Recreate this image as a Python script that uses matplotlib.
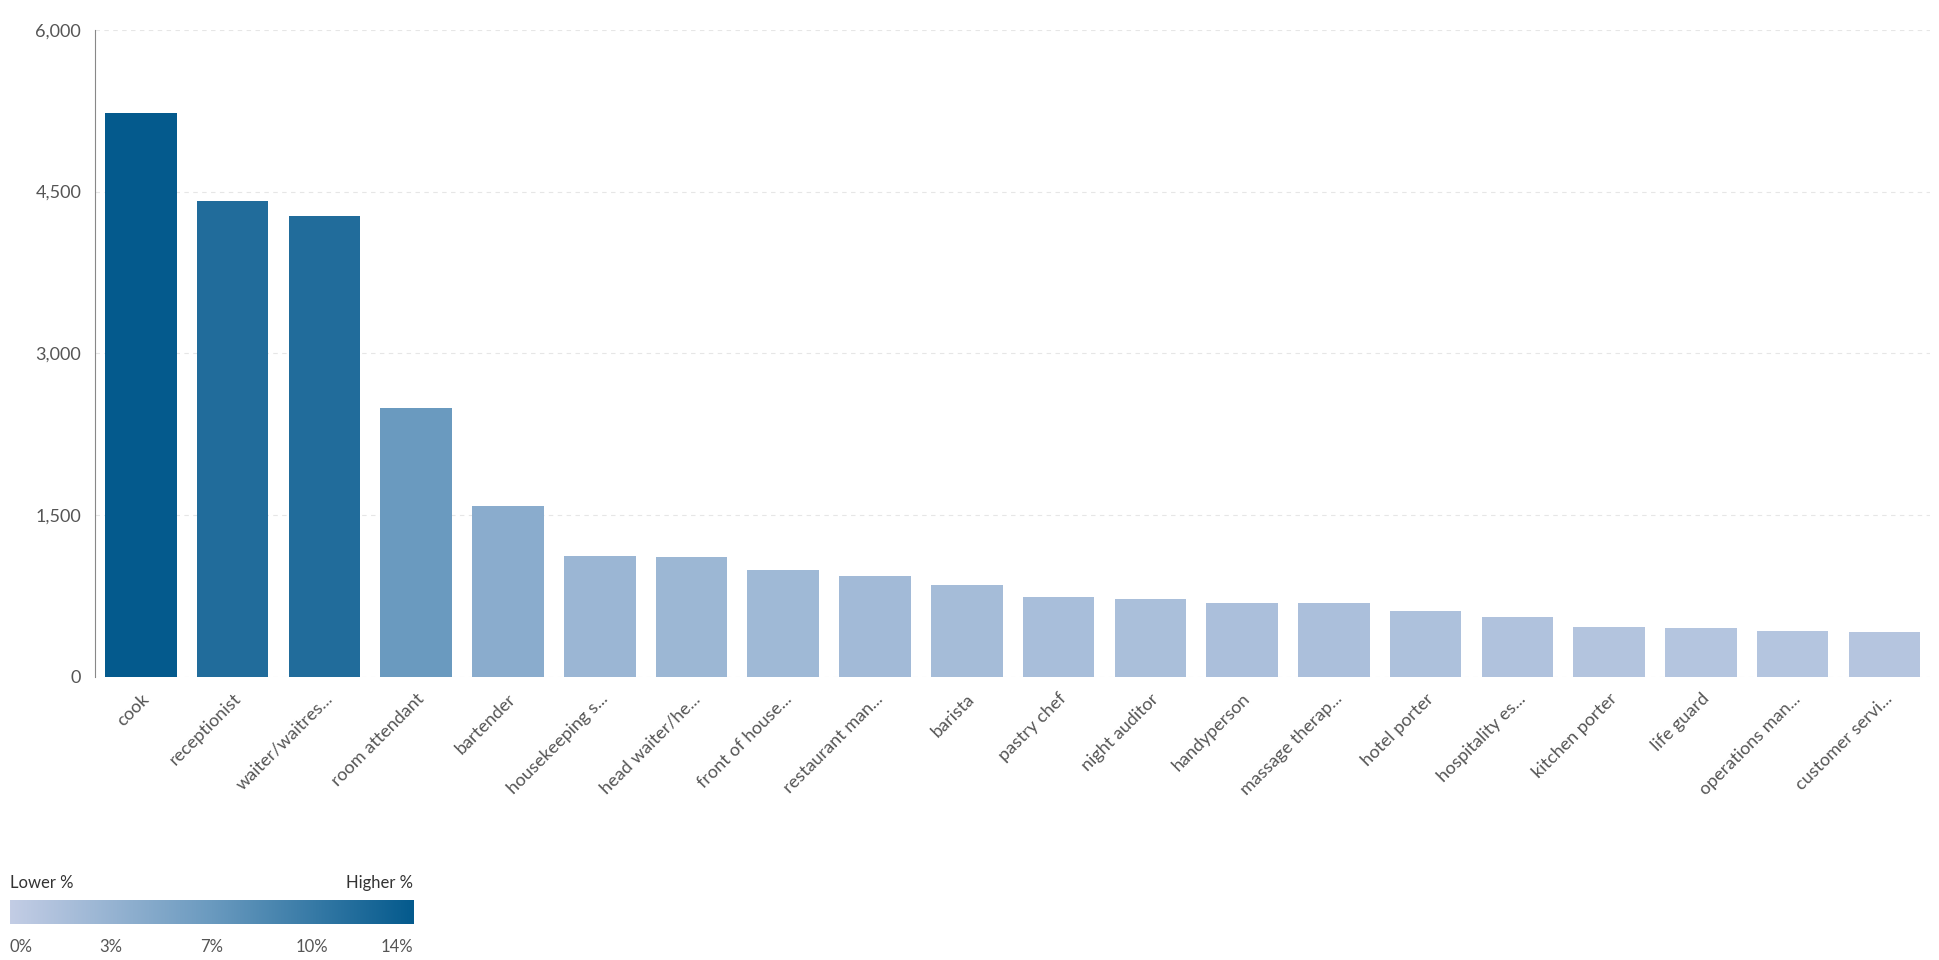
import numpy as np
import matplotlib
matplotlib.use("Agg")
import matplotlib.pyplot as plt
from matplotlib.colors import LinearSegmentedColormap
from matplotlib.patches import FancyBboxPatch

plt.rcParams["font.family"] = ["Lato", "DejaVu Sans"]

labels = ["cook", "receptionist", "waiter/waitres...", "room attendant", "bartender",
          "housekeeping s...", "head waiter/he...", "front of house...", "restaurant man...",
          "barista", "pastry chef", "night auditor", "handyperson", "massage therap...",
          "hotel porter", "hospitality es...", "kitchen porter", "life guard",
          "operations man...", "customer servi..."]
counts = [5225, 4416, 4277, 2497, 1584, 1121, 1110, 994, 936, 855,
          740, 717, 682, 680, 613, 555, 462, 451, 428, 416]
pct = [14, 12, 12, 7, 4.5, 3.2, 3.1, 2.8, 2.6, 2.4,
       2.1, 2.0, 1.9, 1.9, 1.7, 1.5, 1.3, 1.2, 1.2, 1.1]
yticks = [0, 1500, 3000, 4500, 6000]
cbar_ticks = ["0%", "3%", "7%", "10%", "14%"]

cmap = LinearSegmentedColormap.from_list("b", ["#c3cde5", "#6a9abf", "#045a8d"])

fig = plt.figure(figsize=(19.4, 9.6), dpi=100)
ax = fig.add_axes([0.049, 0.295, 0.946, 0.674])
x = np.arange(len(labels))
colors = [cmap(p / 14) for p in pct]
ax.bar(x, counts, width=0.78, color=colors, zorder=3)
ax.set_xlim(-0.5, len(labels) - 0.5)
ax.set_ylim(0, 6000)
ax.set_yticks(yticks)
ax.set_yticklabels([f"{v:,}" for v in yticks], fontsize=13, color="#555555")
ax.set_xticks(x)
ax.set_xticklabels(labels, rotation=45, ha="right", rotation_mode="anchor",
                   fontsize=13, color="#555555")
ax.tick_params(length=0, pad=10)
ax.yaxis.grid(True, linestyle=(0, (4, 4)), color="#e6e6e6", zorder=0)
for s in ["top", "right", "bottom"]:
    ax.spines[s].set_visible(False)
ax.spines["left"].set_color("#888888")

# colour legend
cax = fig.add_axes([0.005, 0.038, 0.208, 0.024])
grad = np.linspace(0, 1, 256).reshape(1, -1)
cax.imshow(grad, aspect="auto", cmap=cmap, extent=[0, 1, 0, 1])
cax.set_axis_off()
fig.text(0.005, 0.075, "Lower %", fontsize=12, color="#333333")
fig.text(0.213, 0.075, "Higher %", fontsize=12, color="#333333", ha="right")
for i, t in enumerate(cbar_ticks):
    xp = 0.005 + 0.208 * [0, 0.25, 0.5, 0.75, 1][i]
    ha = "left" if i == 0 else ("right" if i == 4 else "center")
    fig.text(xp, 0.008, t, fontsize=12, color="#555555", ha=ha)

fig.savefig("out.png")
